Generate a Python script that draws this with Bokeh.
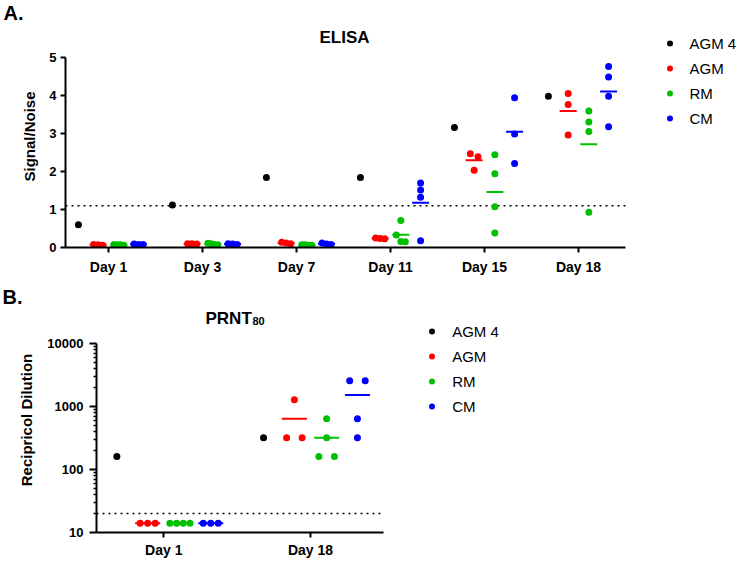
import math
from bokeh.plotting import figure
from bokeh.models import (Range1d, FixedTicker, Label, Legend, LegendItem,
                          PrintfTickFormatter)
from bokeh.embed import file_html
from bokeh.resources import INLINE

FONT = "Liberation Sans"

# ---------------- data ----------------
series_names = ["AGM 4", "AGM", "RM", "CM"]
series_colors = ["#000000", "#FF0000", "#00C000", "#0000FF"]

elisa_days = ["Day 1", "Day 3", "Day 7", "Day 11", "Day 15", "Day 18"]
elisa_agm4 = [0.60, 1.12, 1.84, 1.84, 3.16, 3.98]
elisa_agm = [[0.06, 0.08, 0.07], [0.09, 0.10, 0.10], [0.10, 0.14, 0.12],
             [0.23, 0.25, 0.24], [2.47, 2.39, 2.03], [4.05, 3.76, 2.96]]
elisa_rm = [[0.06, 0.07, 0.07, 0.08], [0.07, 0.10, 0.11, 0.08], [0.06, 0.07, 0.07, 0.06],
            [0.71, 0.33, 0.15, 0.16], [2.44, 1.94, 1.07, 0.38], [3.59, 3.30, 3.05, 0.93]]
elisa_cm = [[0.08, 0.09, 0.08], [0.09, 0.10, 0.08], [0.12, 0.08, 0.09],
            [1.70, 1.51, 1.32, 0.18], [3.94, 2.99, 2.21], [4.76, 4.49, 3.98, 3.18]]
elisa_cutoff = 1.1
elisa_yticks = [0, 1, 2, 3, 4, 5]

prnt_days = ["Day 1", "Day 18"]
prnt_agm4 = [160, 320]
prnt_agm = [[14, 14, 14], [1280, 320, 320]]
prnt_rm = [[14, 14, 14, 14], [640, 320, 160, 160]]
prnt_cm = [[14, 14, 14], [2560, 2560, 640, 320]]
prnt_cutoff = 20
prnt_yticks = [10, 100, 1000, 10000]

# ---------------- layout constants ----------------
W = 740
H1, H2 = 282, 278
SLOT = [-0.32, -0.11, 0.11, 0.32]
DOT = 7


def swarm(vals, to_px, steps, thresh=6.5):
    order = sorted(range(len(vals)), key=lambda k: -vals[k])
    clusters = []
    for k in order:
        if clusters and abs(to_px(vals[k]) - to_px(vals[clusters[-1][-1]])) < thresh:
            clusters[-1].append(k)
        else:
            clusters.append([k])
    off = [0.0] * len(vals)
    for c in clusters:
        n = len(c)
        if n == 1:
            continue
        if n == 2:
            s = steps["tie2"] if vals[c[0]] == vals[c[1]] else steps[2]
        else:
            s = steps.get(n, steps[4])
        for j, k in enumerate(c):
            off[k] = (j - (n - 1) / 2) * s
    return off


def build(days, agm4, groups, cutoff, yticks, log, H, frame, x0px, xstep, yscale,
          steps, mean_px, ylabel, ytick_out, ytick_standoff, ylab_standoff, xstandoff,
          legend_loc, legend_spacing, panel_tag, tag_offset, tag_valign):
    fl, fr, ft, fb = frame
    fh = fb - ft
    xr = ((fl - x0px) / xstep, (fr - x0px) / xstep)
    y0 = yticks[0]
    if log:
        yr = (y0, 10 ** (math.log10(y0) + fh / yscale))
        to_px = lambda v: (math.log10(v) - math.log10(y0)) * yscale
        dy = lambda py: 10 ** (math.log10(y0) + (fb - py) / yscale)
    else:
        yr = (y0, y0 + fh / yscale)
        to_px = lambda v: (v - y0) * yscale
        dy = lambda py: y0 + (fb - py) / yscale
    dx = lambda px: (px - x0px) / xstep

    p = figure(width=W, height=H, x_range=Range1d(*xr), y_range=Range1d(*yr),
               y_axis_type="log" if log else "linear",
               output_backend="svg", toolbar_location=None,
               min_border_left=int(fl), min_border_right=int(W - fr), min_border_top=int(ft),
               min_border_bottom=int(H - fb))
    p.xgrid.visible = False
    p.ygrid.visible = False
    p.outline_line_color = None
    p.background_fill_color = "white"
    p.border_fill_color = "white"

    # panel tag as the title (left-aligned, pulled to the page edge)
    p.title.text = panel_tag
    p.title.align = "left"
    p.title.vertical_align = tag_valign
    p.title.offset = tag_offset - fl
    p.title.standoff = 0
    p.title.text_font = FONT
    p.title.text_font_size = "20px"
    p.title.text_font_style = "bold"
    p.title.text_color = "black"

    xb = (xr[0], len(days) - 0.5)

    # dotted cut-off line, limited to the drawn axis extent
    p.segment([xb[0]], [cutoff], [xb[1]], [cutoff], line_color="black",
              line_width=1.6, line_dash="2 4")

    renderers = []
    r0 = p.scatter([i + SLOT[0] for i in range(len(days))], agm4, size=DOT,
                   fill_color=series_colors[0], line_color=None)
    renderers.append(r0)
    half = mean_px / 2 / xstep
    for g, data in enumerate(groups, start=1):
        xs, ys, mx0, mx1, my = [], [], [], [], []
        for i, vals in enumerate(data):
            cx = i + SLOT[g]
            offs = swarm(vals, to_px, steps)
            for v, o in zip(vals, offs):
                xs.append(cx + o / xstep)
                ys.append(v)
            m = sum(vals) / len(vals)
            mx0.append(cx - half)
            mx1.append(cx + half)
            my.append(m)
        p.segment(mx0, my, mx1, my, line_color=series_colors[g], line_width=2)
        r = p.scatter(xs, ys, size=DOT, fill_color=series_colors[g], line_color=None)
        renderers.append(r)

    for ax in p.axis:
        ax.axis_line_width = 2
        ax.axis_line_color = "black"
        ax.major_tick_line_width = 2
        ax.major_tick_line_color = "black"
        ax.major_tick_in = 0
        ax.major_label_text_font = FONT
        ax.major_label_text_font_style = "bold"
        ax.major_label_text_color = "black"
        ax.axis_label_text_font = FONT
        ax.axis_label_text_font_style = "bold"
        ax.axis_label_text_font_size = "15px"
        ax.axis_label_text_color = "black"

    xa = p.xaxis[0]
    xa.ticker = FixedTicker(ticks=list(range(len(days))))
    xa.major_label_overrides = {i: d for i, d in enumerate(days)}
    xa.major_label_text_font_size = "14px"
    xa.major_tick_out = 5
    xa.major_label_standoff = xstandoff
    xa.minor_tick_line_color = None
    xa.bounds = xb

    ya = p.yaxis[0]
    ya.axis_label = ylabel
    ya.axis_label_standoff = ylab_standoff
    ya.major_label_text_font_size = "13px"
    ya.major_tick_out = ytick_out
    ya.major_label_standoff = ytick_standoff
    ya.bounds = (yticks[0], yticks[-1])
    if log:
        minors = []
        for k in range(len(yticks) - 1):
            minors += [yticks[k] * m for m in range(2, 10)]
        ya.ticker = FixedTicker(ticks=yticks, minor_ticks=minors)
        ya.formatter = PrintfTickFormatter(format="%d")
        ya.minor_tick_line_color = "black"
        ya.minor_tick_line_width = 1.5
        ya.minor_tick_out = 3
        ya.minor_tick_in = 0
    else:
        ya.ticker = FixedTicker(ticks=yticks)
        ya.minor_tick_line_color = None

    items = [LegendItem(label=n, renderers=[r]) for n, r in zip(series_names, renderers)]
    leg = Legend(items=items, location=legend_loc, orientation="vertical",
                 glyph_width=15, glyph_height=20, label_height=20, spacing=legend_spacing,
                 label_standoff=13, padding=0, margin=0, border_line_color=None,
                 background_fill_alpha=0, label_text_font=FONT,
                 label_text_font_size="15px", label_text_color="black")
    p.add_layout(leg, "center")
    return p, dx, dy


def lab(p, text, x, y, size, align="left"):
    p.add_layout(Label(x=x, y=y, text=text, text_font=FONT, text_font_size=size,
                       text_font_style="bold", text_align=align,
                       text_baseline="alphabetic", text_color="black"))


# ---------------- top panel: ELISA ----------------
top_frame = (65, 740, 25, 247)
p1, dx1, dy1 = build(elisa_days, elisa_agm4, [elisa_agm, elisa_rm, elisa_cm], elisa_cutoff,
                     elisa_yticks, False, H1, top_frame, 108, 94, 38,
                     {2: 7.7, "tie2": 7.7, 3: 4.5, 4: 3.3}, 17, "Signal/Noise",
                     5, 4, 8, 6, (669 - 7.5 - 65, 247 - 128), 5, "A.", 3, "top")
lab(p1, "ELISA", dx1(344), dy1(37), "17px", "center")

# ---------------- bottom panel: PRNT80 ----------------
OY = H1  # canvas offset of the lower figure
bot_frame = (96, 740, 307 - OY, 533 - OY)
p2, dx2, dy2 = build(prnt_days, prnt_agm4, [prnt_agm, prnt_rm, prnt_cm], prnt_cutoff,
                     prnt_yticks, True, H2, bot_frame, 163.3, 146.7, 63.3,
                     {2: 7.7, "tie2": 15.5, 3: 7.5, 4: 6.7}, 25, "Recipricol Dilution",
                     7, 6, 9, 4, (431.7 - 7.5 - 96, 533 - 417.3), 5, "B.", 2, "bottom")
lab(p2, "PRNT", dx2(205), dy2(318.5 - OY), "17px")
lab(p2, "80", dx2(252), dy2(321 - OY), "11px")

open("out.html", "w").write(file_html([p1, p2], INLINE))
